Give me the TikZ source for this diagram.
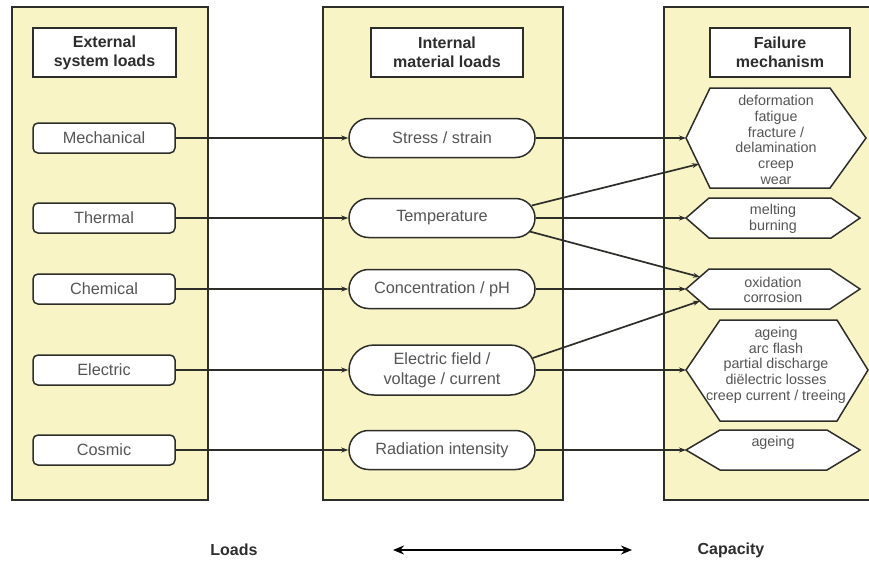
\documentclass[tikz,border=0pt]{standalone}
\usepackage{fontspec}
\setmainfont{Liberation Sans}
\usetikzlibrary{arrows.meta,shapes.misc,calc}
\definecolor{panelc}{RGB}{248,244,198}
\definecolor{linec}{RGB}{45,45,42}
\definecolor{txtc}{RGB}{85,85,85}
\definecolor{hdrc}{RGB}{45,45,45}
\tikzset{
  panel/.style={draw=linec, fill=panelc, line width=1.5pt},
  header/.style={draw=linec, fill=white, line width=1.5pt, minimum height=49pt, inner sep=0pt, align=center, font=\bfseries\fontsize{16}{19}\selectfont, text=hdrc},
  loadbox/.style={draw=linec, fill=white, line width=1.5pt, rounded corners=5pt, minimum width=142pt, minimum height=30pt, inner sep=0pt, font=\fontsize{16.3}{19}\selectfont, text=txtc},
  intbox/.style={rounded rectangle, draw=linec, fill=white, line width=1.5pt, minimum width=186pt, minimum height=39pt, inner sep=0pt, align=center, font=\fontsize{16.3}{20}\selectfont, text=txtc},
  hex/.style={draw=linec, fill=white, line width=1.5pt, line join=miter},
  hextext/.style={align=center, inner sep=0pt, font=\fontsize{14.3}{15.7}\selectfont, text=txtc},
  conn/.style={draw=linec, line width=1.7pt, -{Stealth[length=7pt,width=5pt]}},
  biglabel/.style={font=\bfseries\fontsize{16}{19}\selectfont, text=hdrc, inner sep=0pt}
}
\begin{document}
\begin{tikzpicture}[x=1pt,y=-1pt]
\useasboundingbox (0,0) rectangle (869,562);
\clip (0,0) rectangle (869,562);
% panels
\draw[panel] (12,7) rectangle (208,500);
\draw[panel] (323,7) rectangle (563,500);
\draw[panel] (664,7) rectangle (890,500);
% headers
\node[header, minimum width=143pt] (h1) at (104.5,52.5) {External\\system loads};
\node[header, minimum width=152pt] (h2) at (447,52.5) {Internal\\material loads};
\node[header, minimum width=140pt] (h3) at (780,52.5) {Failure\\mechanism};
% left boxes
\node[loadbox] (mech) at (104,138) {Mechanical};
\node[loadbox] (therm) at (104,218) {Thermal};
\node[loadbox] (chem) at (104,289) {Chemical};
\node[loadbox] (elec) at (104,370) {Electric};
\node[loadbox] (cosm) at (104,450) {Cosmic};
% middle boxes
\node[intbox] (stress) at (442,138) {Stress / strain};
\node[intbox] (temp) at (442,218) {Temperature};
\node[intbox] (conc) at (442,289) {Concentration / pH};
\node[intbox, minimum height=50pt] (efield) at (442,370) {Electric field /\\voltage / current};
\node[intbox] (rad) at (442,450) {Radiation intensity};
% hexagons
\draw[hex] (686,138) -- (710,88) -- (830,88) -- (866,138) -- (830,188) -- (710,188) -- cycle;
\coordinate (f1) at (686,138);
\coordinate (f1b) at (699,164);
\node[hextext] (t1) at (776,140) {deformation\\fatigue\\fracture /\\delamination\\creep\\wear};
\draw[hex] (686,218) -- (709,198) -- (831,198) -- (860,218) -- (831,238) -- (709,238) -- cycle;
\coordinate (f2) at (686,218);
\node[hextext] (t2) at (773,219) {melting\\burning};
\draw[hex] (686,289) -- (709,269) -- (830,269) -- (860,289) -- (830,309) -- (709,309) -- cycle;
\coordinate (f3) at (686,289);
\coordinate (f3a) at (700,277);
\coordinate (f3b) at (700,301);
\node[hextext] (t3) at (773,290) {oxidation\\corrosion};
\draw[hex] (686,370) -- (720,320) -- (837,320) -- (868,370) -- (837,421) -- (720,421) -- cycle;
\coordinate (f4) at (686,370);
\node[hextext] (t4) at (776,365) {ageing\\arc flash\\partial discharge\\diëlectric losses\\creep current / treeing};
\draw[hex] (686,450) -- (720,430) -- (827,430) -- (860,450) -- (827,470) -- (720,470) -- cycle;
\coordinate (f5) at (686,450);
\node[hextext] (t5) at (773,443) {ageing};
% start points on the stadium arcs
\coordinate (ts1) at ($(temp.east)+(-4,-12.5)$);
\coordinate (ts2) at ($(temp.east)+(-6,13.5)$);
\coordinate (es1) at ($(efield.east)+(-3,-12)$);
% connectors left -> middle
\draw[conn] (mech.east) -- (stress.west);
\draw[conn] (therm.east) -- (temp.west);
\draw[conn] (chem.east) -- (conc.west);
\draw[conn] (elec.east) -- (efield.west);
\draw[conn] (cosm.east) -- (rad.west);
% connectors middle -> right
\draw[conn] (stress.east) -- (f1);
\draw[conn] (temp.east) -- (f2);
\draw[conn] (conc.east) -- (f3);
\draw[conn] (efield.east) -- (f4);
\draw[conn] (rad.east) -- (f5);
\draw[conn] (ts1) -- (f1b);
\draw[conn] (ts2) -- (f3a);
\draw[conn] (es1) -- (f3b);
% bottom
\node[biglabel] (loads) at (234,550) {Loads};
\node[biglabel] (cap) at (731,550) {Capacity};
\coordinate (la) at (393,550);
\coordinate (lb) at (632,550);
\draw[draw=black, line width=2.6pt, {Stealth[length=11pt,width=9pt]}-{Stealth[length=11pt,width=9pt]}] (la) -- (lb);
\end{tikzpicture}
\end{document}
